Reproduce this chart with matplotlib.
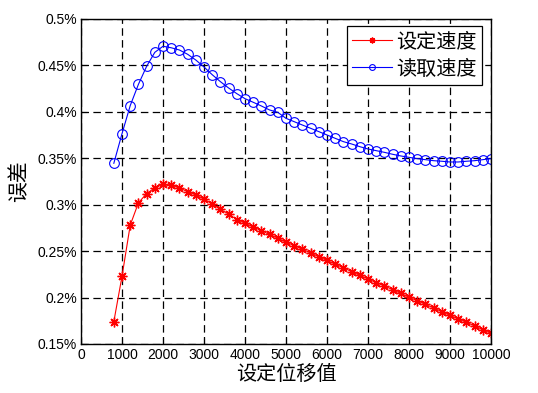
import numpy as np
import matplotlib
matplotlib.use("Agg")
import matplotlib.pyplot as plt

plt.rcParams['font.family'] = ['Noto Sans CJK SC', 'DejaVu Sans']

# displacement setting values
disp = list(range(800, 10001, 200))

# error (%) - set speed
err_set = [0.174, 0.223, 0.278, 0.302, 0.312, 0.318, 0.322, 0.321, 0.318, 0.314,
           0.3105, 0.306, 0.301, 0.295, 0.290, 0.284, 0.280, 0.276, 0.272, 0.268,
           0.264, 0.2595, 0.256, 0.252, 0.248, 0.244, 0.240, 0.236, 0.232, 0.228,
           0.224, 0.220, 0.216, 0.2125, 0.2085, 0.2046, 0.2003, 0.1966, 0.1927, 0.1888,
           0.1848, 0.1809, 0.1769, 0.1734, 0.1694, 0.1654, 0.1615]

# error (%) - read speed
err_read = [0.3446, 0.3765, 0.4067, 0.4296, 0.449, 0.4641, 0.4706, 0.469, 0.4666, 0.462,
            0.4558, 0.4483, 0.440, 0.4325, 0.4257, 0.4196, 0.4142, 0.4103, 0.4063, 0.402,
            0.3995, 0.393, 0.3894, 0.3858, 0.3823, 0.3787, 0.3751, 0.3715, 0.3679, 0.3654,
            0.3625, 0.360, 0.3582, 0.3564, 0.3543, 0.3525, 0.351, 0.3496, 0.3485, 0.3474,
            0.3468, 0.346, 0.346, 0.3468, 0.3474, 0.3485, 0.3496]

yticks = [0.15, 0.2, 0.25, 0.3, 0.35, 0.4, 0.45, 0.5]
ytick_labels = ['0.15%', '0.2%', '0.25%', '0.3%', '0.35%', '0.4%', '0.45%', '0.5%']
xticks = list(range(0, 10001, 1000))

fig = plt.figure(figsize=(5.38, 3.93), dpi=100)
ax = fig.add_axes([0.1506, 0.1247, 0.762, 0.827])

ax.plot(disp, err_set, color='#ff0000', linewidth=0.8, marker=(8, 2, 0),
        markersize=7, markeredgewidth=1.0, label='设定速度')
ax.plot(disp, err_read, color='#0000ff', linewidth=0.8, marker='o',
        markersize=7, markerfacecolor='none', markeredgewidth=0.8, label='读取速度')

ax.set_xlim(0, 10000)
ax.set_ylim(0.15, 0.5)
ax.set_xticks(xticks)
ax.set_yticks(yticks)
ax.set_yticklabels(ytick_labels)
for lab in ax.get_xticklabels() + ax.get_yticklabels():
    lab.set_family('Liberation Sans')
    lab.set_fontsize(10)
ax.tick_params(direction='in', length=4, width=0.8, pad=3)
ax.grid(True, color='black', linestyle=(0, (6, 3.5)), linewidth=0.9)
for sp in ax.spines.values():
    sp.set_linewidth(1.0)

ax.set_xlabel('设定位移值', fontsize=14.5, labelpad=1)
ax.set_ylabel('误差', fontsize=15, labelpad=5)

leg = ax.legend(loc='upper right', bbox_to_anchor=(0.978, 0.977), fontsize=14.5,
                fancybox=False, framealpha=1, edgecolor='black', borderaxespad=0,
                handlelength=2.0, borderpad=0.25, labelspacing=0.3,
                handletextpad=0.2, markerscale=0.6)
leg.get_frame().set_linewidth(0.9)

fig.savefig('out.png', dpi=100)
